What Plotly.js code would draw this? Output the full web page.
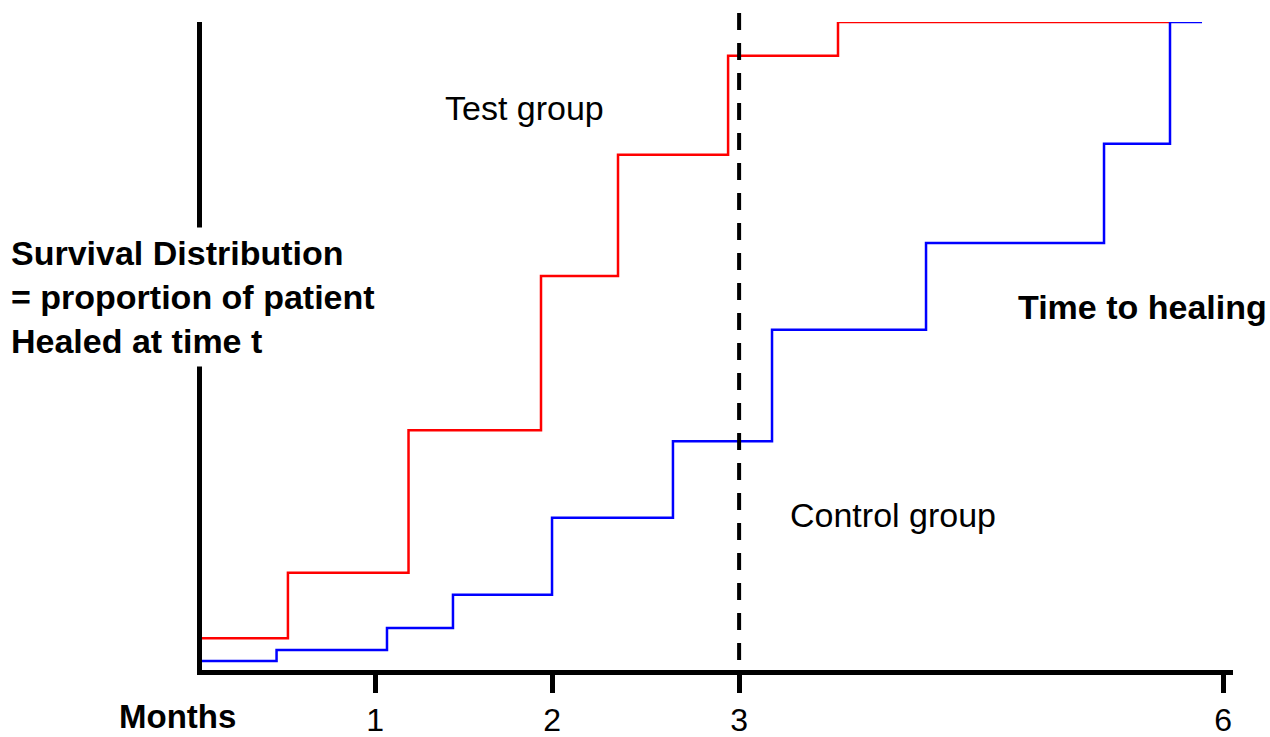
<!DOCTYPE html>
<html>
<head>
<meta charset="utf-8">
<script src="https://cdn.plot.ly/plotly-3.0.1.min.js"></script>
<style>html,body{margin:0;padding:0;background:#fff;}#chart{width:1270px;height:737px;}</style>
</head>
<body>
<div id="chart"></div>
<script>
// Step times (drawn time scale) and cumulative proportion healed
var testTimes   = [0, 0.491, 1.180, 1.937, 2.377, 3.006, 3.634, 5.531];
var testValues  = [0.049, 0.150, 0.370, 0.608, 0.795, 0.948, 1.0, 1.0];
var ctrlTimes   = [0, 0.426, 1.057, 1.434, 2.000, 2.691, 3.257, 4.137, 5.154, 5.531, 5.714];
var ctrlValues  = [0.014, 0.031, 0.065, 0.116, 0.235, 0.353, 0.525, 0.659, 0.812, 1.0, 1.0];
var tickPositions = [0.989, 2.000, 3.069, 5.834];
var tickLabels    = ['1', '2', '3', '6'];
var cutoffTime = 3.069;   // 3 months reference line

var FONT = 'Arial, "Liberation Sans", sans-serif';

var traces = [
  {x: testTimes, y: testValues, mode: 'lines', line: {shape: 'hv', color: '#ff0000', width: 2.5},
   cliponaxis: false, hoverinfo: 'skip', name: 'Test group'},
  {x: ctrlTimes, y: ctrlValues, mode: 'lines', line: {shape: 'hv', color: '#0000ff', width: 2.5},
   cliponaxis: false, hoverinfo: 'skip', name: 'Control group'}
];

var layout = {
  width: 1270, height: 737,
  margin: {l: 202, r: 37, t: 22, b: 67},
  paper_bgcolor: '#ffffff', plot_bgcolor: '#ffffff',
  showlegend: false,
  font: {family: FONT, color: '#000'},
  xaxis: {
    range: [0, 5.891], showgrid: false, zeroline: false,
    showline: true, linecolor: '#000', linewidth: 5,
    ticks: 'outside', ticklen: 18, tickwidth: 5, tickcolor: '#000',
    tickmode: 'array', tickvals: tickPositions, ticktext: tickLabels,
    tickfont: {family: FONT, size: 32, color: '#000'}
  },
  yaxis: {
    range: [0, 1], showgrid: false, zeroline: false,
    showline: true, linecolor: '#000', linewidth: 5,
    showticklabels: false, ticks: ''
  },
  shapes: [
    {type: 'line', xref: 'x', yref: 'paper', x0: cutoffTime, x1: cutoffTime, y0: 1.014, y1: 0,
     line: {color: '#000', width: 4, dash: '17px,13px'}}
  ],
  annotations: [
    {xref: 'paper', yref: 'paper', x: -0.192, y: 0.5756, xanchor: 'left', yanchor: 'middle', align: 'left',
     showarrow: false, bgcolor: '#ffffff', borderpad: 6,
     text: '<b>Survival Distribution<br>= proportion of patient<br>Healed at time t</b>',
     font: {family: FONT, size: 34, color: '#000'}},
    {xref: 'paper', yref: 'paper', x: 0.313, y: 0.868, xanchor: 'center', yanchor: 'middle',
     showarrow: false, text: 'Test group', font: {family: FONT, size: 34, color: '#000'}},
    {xref: 'paper', yref: 'paper', x: 0.670, y: 0.239, xanchor: 'center', yanchor: 'middle',
     showarrow: false, text: 'Control group', font: {family: FONT, size: 34, color: '#000'}},
    {xref: 'paper', yref: 'paper', x: 0.912, y: 0.560, xanchor: 'center', yanchor: 'middle',
     showarrow: false, text: '<b>Time to healing</b>', font: {family: FONT, size: 34, color: '#000'}},
    {xref: 'paper', yref: 'paper', x: -0.0242, y: -0.1034, xanchor: 'center', yanchor: 'bottom',
     showarrow: false, text: '<b>Months</b>', font: {family: FONT, size: 33, color: '#000'}}
  ]
};

Plotly.newPlot('chart', traces, layout, {staticPlot: true, displayModeBar: false});
</script>
</body>
</html>
